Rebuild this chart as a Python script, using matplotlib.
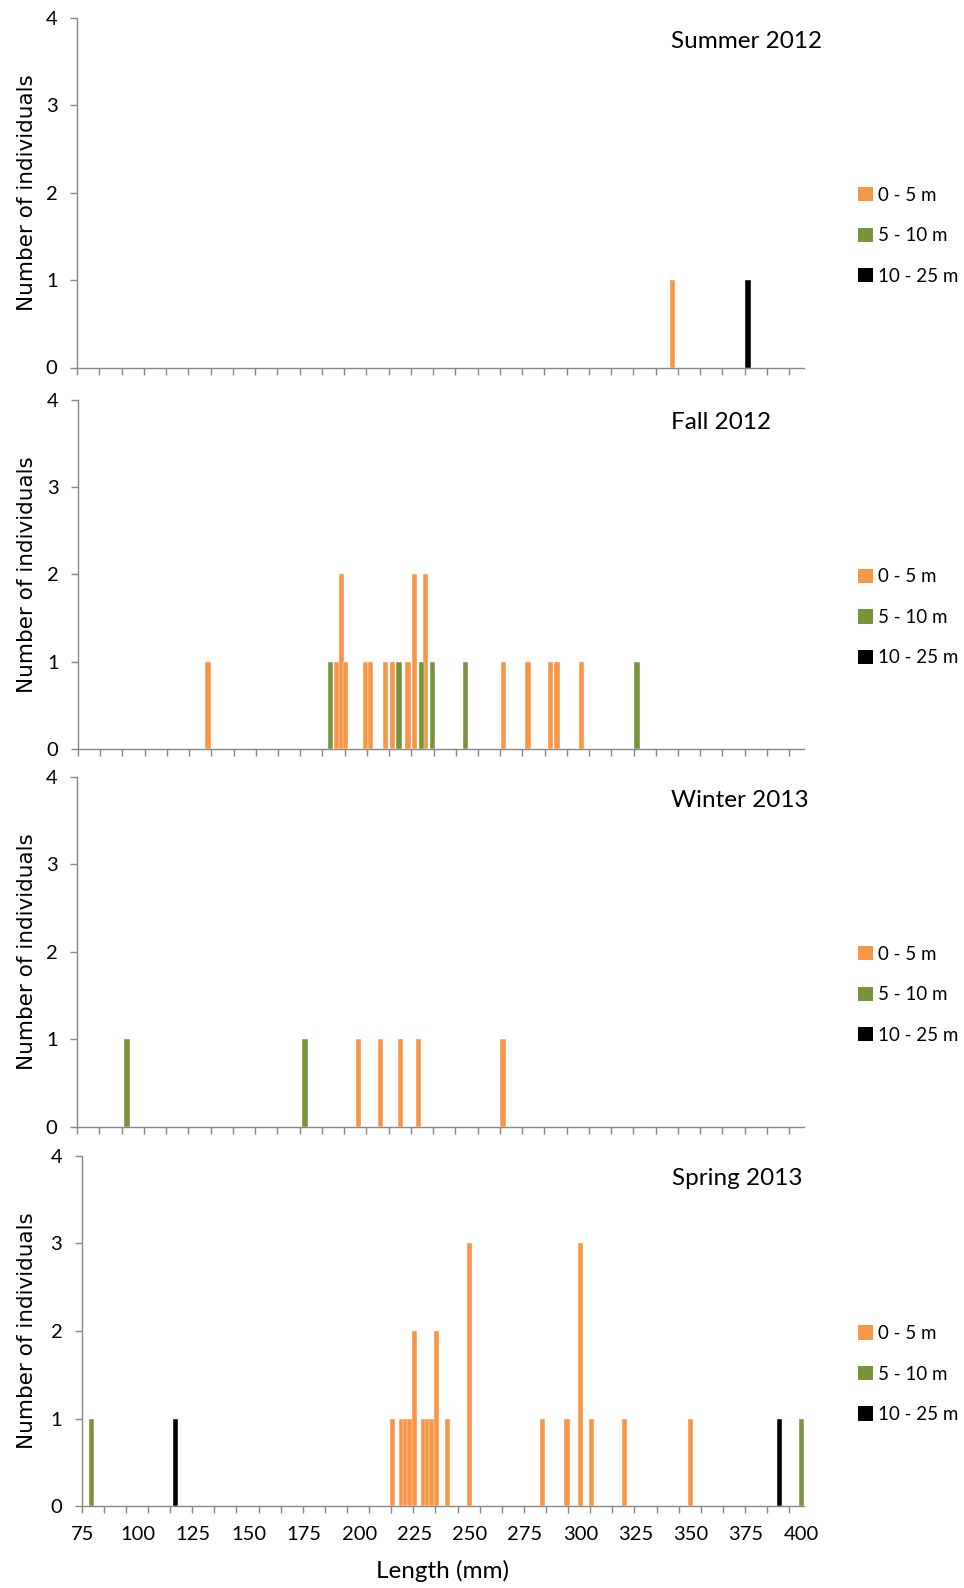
import numpy as np
import matplotlib.pyplot as plt
from matplotlib.patches import Patch

plt.rcParams['font.family'] = ['Lato', 'DejaVu Sans']

# fish lengths (mm) and counts per depth class, one season per panel
summer_orange_x = [342]
summer_orange_n = [1]
summer_black_x = [376]
summer_black_n = [1]

fall_orange_x = [133, 191, 193, 195, 204, 206, 213, 216, 223, 226, 231, 266, 277, 287, 290, 301]
fall_orange_n = [1, 1, 2, 1, 1, 1, 1, 1, 1, 2, 2, 1, 1, 1, 1, 1]
fall_green_x = [188, 219, 229, 234, 249, 326]
fall_green_n = [1, 1, 1, 1, 1, 1]

winter_orange_x = [201, 211, 220, 228, 266]
winter_orange_n = [1, 1, 1, 1, 1]
winter_green_x = [97, 177]
winter_green_n = [1, 1]

spring_orange_x = [215, 219, 221, 223, 225, 229, 231, 233, 235, 240, 250, 283, 294, 300, 305, 320, 350]
spring_orange_n = [1, 1, 1, 1, 2, 1, 1, 1, 2, 1, 3, 1, 1, 3, 1, 1, 1]
spring_green_x = [79, 400]
spring_green_n = [1, 1]
spring_black_x = [117, 390]
spring_black_n = [1, 1]

seasons = ['Summer 2012', 'Fall 2012', 'Winter 2013', 'Spring 2013']
depth_labels = ['0 - 5 m', '5 - 10 m', '10 - 25 m']
colors = ['#F79646', '#77933C', '#000000']
xtick_labels = [75, 100, 125, 150, 175, 200, 225, 250, 275, 300, 325, 350, 375, 400]

series = [
    [(summer_orange_x, summer_orange_n), ([], []), (summer_black_x, summer_black_n)],
    [(fall_orange_x, fall_orange_n), (fall_green_x, fall_green_n), ([], [])],
    [(winter_orange_x, winter_orange_n), (winter_green_x, winter_green_n), ([], [])],
    [(spring_orange_x, spring_orange_n), (spring_green_x, spring_green_n), (spring_black_x, spring_black_n)],
]

W, H = 964, 1588
fig = plt.figure(figsize=(W / 100, H / 100), dpi=100)

# plot boxes in pixels: left, top, bottom
boxes = [(77, 18, 367.5), (78, 399.5, 749.3), (77, 777, 1126.5), (81.7, 1155.7, 1506.3)]
right = 804
grey = '#878787'

for i, (season, data, (l, t, b)) in enumerate(zip(seasons, series, boxes)):
    ax = fig.add_axes([l / W, 1 - b / H, (right - l) / W, (b - t) / H])
    for (xs, ns), c in zip(data, colors):
        if xs:
            ax.bar(xs, ns, width=2.4, color=c, edgecolor='white', linewidth=0.3, zorder=3)
    ax.set_xlim(74.5, 401.2)
    ax.set_ylim(0, 4)
    ax.set_yticks([0, 1, 2, 3, 4])
    ax.set_xticks(xtick_labels)
    ax.set_xticks(np.arange(74.5, 401, 10), minor=True)
    for s in ['top', 'right']:
        ax.spines[s].set_visible(False)
    for s in ['left', 'bottom']:
        ax.spines[s].set_color(grey)
        ax.spines[s].set_linewidth(1.0)
    ax.tick_params(axis='y', direction='out', length=5, width=1, color=grey, pad=9, labelsize=14.5)
    ax.tick_params(axis='x', which='major', length=0, pad=14.5, labelsize=14.5,
                   labelbottom=(i == len(seasons) - 1))
    ax.tick_params(axis='x', which='minor', direction='out', length=5, width=1, color=grey)

    ax.text(0.817, 0.934, season, transform=ax.transAxes, ha='left', va='center', fontsize=17.5)

    center = (t + b) / 2
    handles = [Patch(facecolor=c, label=lab) for c, lab in zip(colors, depth_labels)]
    ax.legend(handles=handles, loc='center left', bbox_to_anchor=(858 / W, 1 - (center + 43) / H),
              bbox_transform=fig.transFigure, frameon=False, fontsize=13.5,
              handlelength=0.8, handleheight=0.8, handletextpad=0.25, labelspacing=1.25,
              borderpad=0, borderaxespad=0)

    fig.text(27 / W, 1 - center / H, 'Number of individuals', rotation=90, ha='center', va='center',
             fontsize=15.5, family='DejaVu Sans')

fig.text(442 / W, 1 - 1571 / H, 'Length (mm)', ha='center', va='center', fontsize=17.5)

fig.savefig('out.png', dpi=100)
